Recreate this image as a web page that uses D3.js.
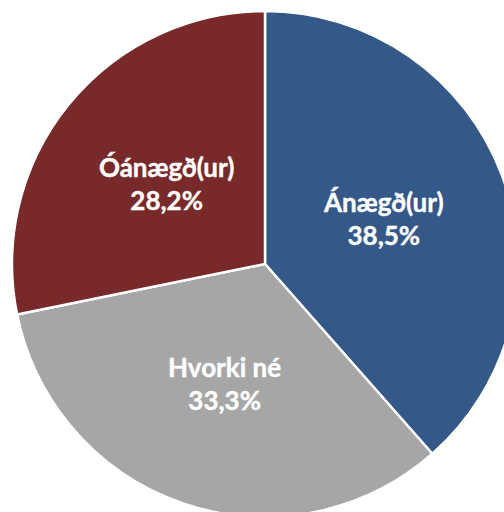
<!DOCTYPE html>
<html><head><meta charset="utf-8">
<script src="https://cdn.jsdelivr.net/npm/d3@7"></script>
<style>html,body{margin:0;padding:0;background:#fff;overflow:hidden}</style>
</head><body>
<svg id="c" width="504" height="512"></svg>
<script>
const categories = ["Ánægð(ur)", "Hvorki né", "Óánægð(ur)"];
const values = [38.5, 33.3, 28.2];
const valueLabels = ["38,5%", "33,3%", "28,2%"];
const colors = ["#345888", "#a6a6a6", "#772a29"];

const svg = d3.select("#c");
const cx = 265, cy = 264, R = 253;
const g = svg.append("g").attr("transform", `translate(${cx},${cy})`);
const data = categories.map((c, i) => ({cat: c, v: values[i], lab: valueLabels[i], col: colors[i]}));
const pie = d3.pie().value(d => d.v).sort(null);
const arc = d3.arc().innerRadius(0).outerRadius(R);
const arcs = pie(data);
g.selectAll("path").data(arcs).join("path")
  .attr("d", arc).attr("fill", d => d.data.col)
  .attr("stroke", "#fff").attr("stroke-width", 2.5);
const lr = d3.arc().innerRadius(127).outerRadius(127);
const t = g.selectAll("text").data(arcs).join("text")
  .attr("transform", d => `translate(${lr.centroid(d)})`)
  .attr("text-anchor", "middle")
  .attr("fill", "#fff")
  .style("font-family", "Lato, 'Open Sans', sans-serif")
  .style("font-weight", "bold")
  .style("font-size", "26px")
  .style("stroke", "#fff").style("stroke-width", "0.4px");
t.append("tspan").attr("x", 0).attr("y", -7).text(d => d.data.cat);
t.append("tspan").attr("x", 0).attr("y", 26).text(d => d.data.lab);
</script>
</body></html>
